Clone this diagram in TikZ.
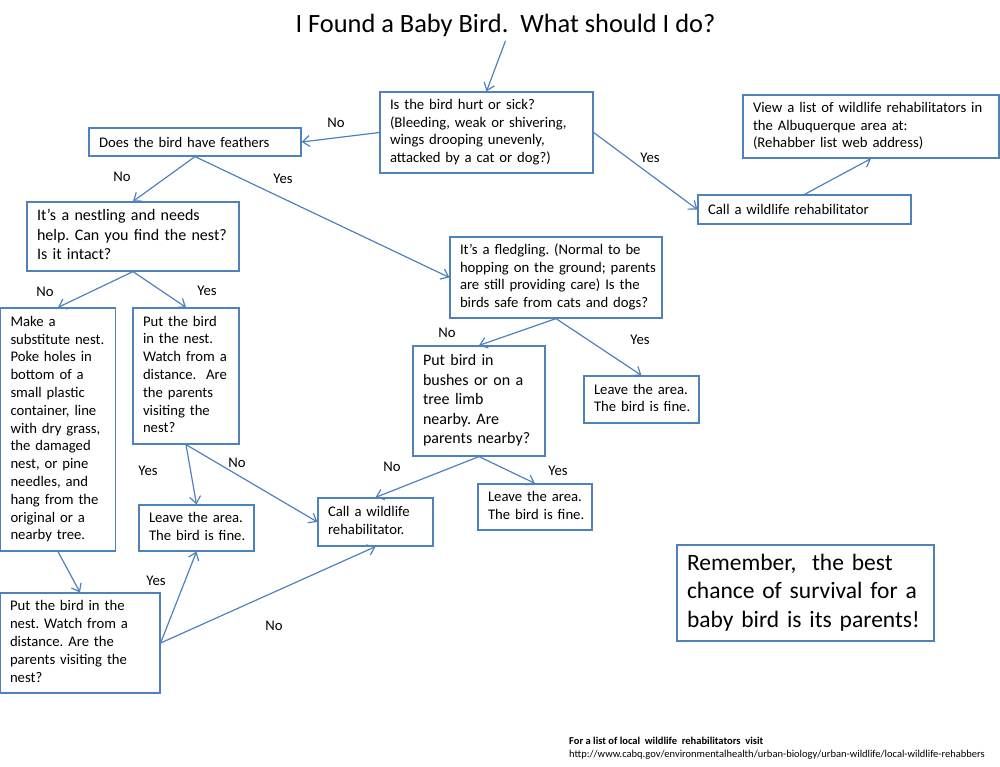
\documentclass[tikz,border=0pt]{standalone}
\usepackage{fontspec}
\setmainfont{Carlito}
\usetikzlibrary{arrows.meta}
\definecolor{lineblue}{RGB}{79,129,189}
\newcommand{\bodyfont}{\fontsize{14.7}{17.8}\selectfont}
\newcommand{\bigfont}{\fontsize{16}{19.5}\selectfont}
\newcommand{\notefont}{\fontsize{23.5}{28.5}\selectfont}
\newcommand{\titlefont}{\fontsize{26.4}{31}\selectfont}
\newcommand{\footfont}{\fontsize{10.5}{13}\selectfont}
\newcommand{\boxlines}[1]{\begin{tabular}{@{}l@{}}#1\end{tabular}}

\begin{document}
\frenchspacing
\begin{tikzpicture}[
    x=1pt, y=-1pt,
    box/.style={rectangle, draw=lineblue, fill=white, line width=1.2pt, inner xsep=10pt,
                inner ysep=0pt, align=left, font=\bodyfont},
    lbl/.style={font=\bodyfont, inner sep=0pt},
    arr/.style={-{Straight Barb[length=7pt,width=11pt]}, draw=lineblue, line width=1.2pt},
]
    \useasboundingbox (0,0) rectangle (1000,767);

    \node[font=\titlefont, anchor=base] (title) at (505.5,33) {I Found a Baby Bird.\ \ What should I do?};

    \node[box, text width=193pt, minimum height=81pt] (hurt) at (486.5,132.5)
        {\boxlines{Is the bird hurt or sick?\\(Bleeding, weak or shivering,\\wings drooping unevenly,\\attacked by a cat or dog?)}};
    \node[box, text width=192pt, minimum height=28pt] (feathers) at (195,142) {Does the bird have feathers};
    \node[box, text width=193pt, minimum height=29pt] (callR) at (804.5,209.5) {Call a wildlife rehabilitator};
    \node[box, text width=236pt, minimum height=63pt] (viewlist) at (871,126.5)
        {\boxlines{View a list of wildlife rehabilitators in\\the Albuquerque area at:\\(Rehabber list web address)}};
    \node[box, font=\bigfont, text width=192pt, minimum height=69pt] (nestling) at (133,236.5)
        {\boxlines{It's a nestling and needs\\help. Can you find the nest?\\Is it intact?}};
    \node[box, text width=192pt, minimum height=81pt] (fledgling) at (556,277.5)
        {\boxlines{It's a fledgling. (Normal to be\\hopping on the ground; parents\\are still providing care) Is the\\birds safe from cats and dogs?}};
    \node[box, text width=95pt, minimum height=243pt] (subnest) at (58,429.5)
        {\boxlines{Make a\\substitute nest.\\Poke holes in\\bottom of a\\small plastic\\container, line\\with dry grass,\\the damaged\\nest, or pine\\needles, and\\hang from the\\original or a\\nearby tree.}};
    \node[box, text width=86pt, minimum height=136pt] (putnestA) at (186,376)
        {\boxlines{Put the bird\\in the nest.\\Watch from a\\distance.\ \ Are\\the parents\\visiting the\\nest?}};
    \node[box, text width=95pt, minimum height=46pt] (leaveL) at (196.5,528) {\boxlines{Leave the area.\\The bird is fine.}};
    \node[box, text width=140pt, minimum height=100pt] (putnestB) at (80,643)
        {\boxlines{Put the bird in the\\nest. Watch from a\\distance. Are the\\parents visiting the\\nest?}};
    \node[box, text width=95pt, minimum height=48pt] (callM) at (375.5,522) {\boxlines{Call a wildlife\\rehabilitator.}};
    \node[box, font=\bigfont, text width=112pt, minimum height=110pt] (bushes) at (479,401)
        {\boxlines{Put bird in\\bushes or on a\\tree limb\\nearby. Are\\parents nearby?}};
    \node[box, text width=94pt, minimum height=46pt] (leaveM) at (535,507) {\boxlines{Leave the area.\\The bird is fine.}};
    \node[box, text width=95pt, minimum height=47pt] (leaveR) at (641.5,399.5) {\boxlines{Leave the area.\\The bird is fine.}};
    \node[box, font=\notefont, text width=237pt, minimum height=96pt] (remember) at (805.5,593)
        {\boxlines{Remember,\ \ the best\\chance of survival for a\\baby bird is its parents!}};

    \draw[arr] (title.south) -- (hurt.north);
    \draw[arr] (hurt.west) -- (feathers.east);
    \draw[arr] (hurt.east) -- (callR.west);
    \draw[arr] (callR.north) -- (viewlist.south);
    \draw[arr] (feathers.south) -- (nestling.north);
    \draw[arr] (feathers.south) -- (fledgling.west);
    \draw[arr] (nestling.south) -- (subnest.north);
    \draw[arr] (nestling.south) -- (putnestA.north);
    \draw[arr] (putnestA.south) -- (leaveL.north);
    \draw[arr] (putnestA.south) -- (callM.west);
    \draw[arr] (subnest.south) -- (putnestB.north);
    \draw[arr] (putnestB.east) -- (leaveL.south);
    \draw[arr] (putnestB.east) -- (callM.south);
    \draw[arr] (fledgling.south) -- (bushes.north);
    \draw[arr] (fledgling.south) -- (leaveR.north);
    \draw[arr] (bushes.south) -- (callM.north);
    \draw[arr] (bushes.south) -- (leaveM.north);

    \node[lbl] (noHurt) at (336,123) {No};
    \node[lbl] (yesHurt) at (650,158) {Yes};
    \node[lbl] (noFeath) at (122,177) {No};
    \node[lbl] (yesFeath) at (283,179) {Yes};
    \node[lbl] (noNest) at (45,292) {No};
    \node[lbl] (yesNest) at (207,291) {Yes};
    \node[lbl] (yesVisitA) at (148,471) {Yes};
    \node[lbl] (noVisitA) at (237,463) {No};
    \node[lbl] (yesVisitB) at (156,581) {Yes};
    \node[lbl] (noVisitB) at (274,626) {No};
    \node[lbl] (noSafe) at (447,333) {No};
    \node[lbl] (yesSafe) at (640,340) {Yes};
    \node[lbl] (noNear) at (392,467) {No};
    \node[lbl] (yesNear) at (558,471) {Yes};

    \node[font=\footfont\bfseries, anchor=base west, inner sep=0pt] (foot) at (569,744)
        {For a list of local\ \ wildlife\ \ rehabilitators\ \ visit};
    \node[font=\footfont, anchor=base west, inner sep=0pt] (url) at (569,757)
        {http://www.cabq.gov/environmentalhealth/urban-biology/urban-wildlife/local-wildlife-rehabbers};
\end{tikzpicture}
\end{document}
